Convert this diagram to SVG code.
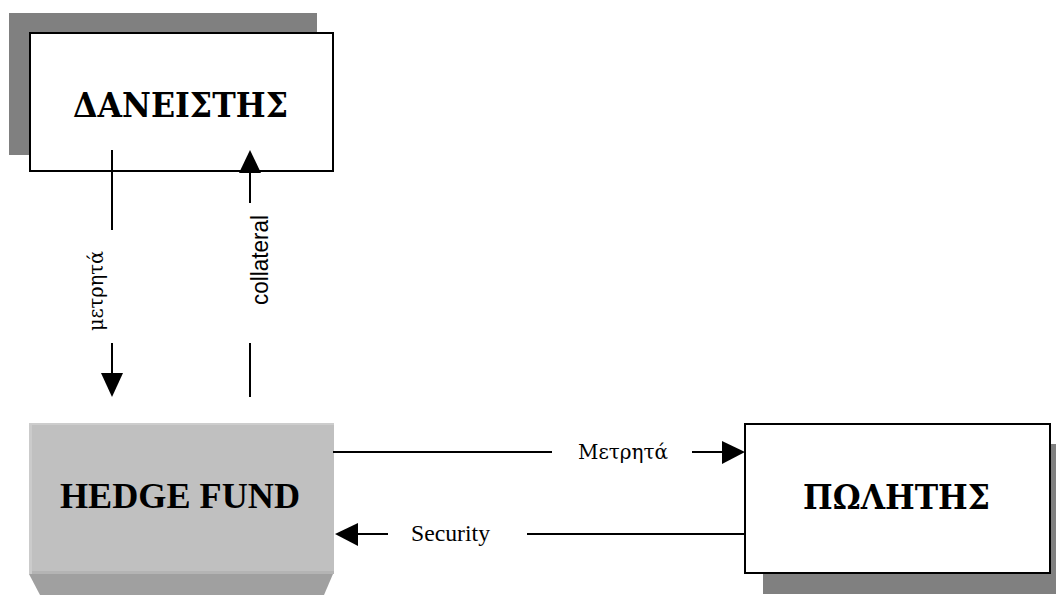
<svg xmlns="http://www.w3.org/2000/svg" width="1056" height="595" viewBox="0 0 1056 595">
  <style>
    .box { fill: #ffffff; stroke: #000000; stroke-width: 2; }
    .shadow { fill: #808080; }
    .title { font-family: "Liberation Serif", "Times New Roman", serif; font-weight: bold; font-size: 35px; fill: #000; }
    .gtitle { font-family: "DejaVu Serif", "Liberation Serif", serif; font-weight: bold; font-size: 33px; fill: #000; }
    .lbl { font-family: "Liberation Serif", "Times New Roman", serif; font-size: 23px; fill: #000; }
    .glbl { font-family: "DejaVu Serif", "Liberation Serif", serif; font-size: 21px; fill: #000; }
    .lbls { font-family: "Liberation Sans", Arial, sans-serif; font-size: 23px; fill: #000; }
    .ln { stroke: #000; stroke-width: 2; fill: none; }
    .ah { fill: #000; }
  </style>
  <rect width="1056" height="595" fill="#ffffff"/>

  <g id="node-daneistis">
    <rect class="shadow" x="9" y="13" width="308" height="142"/>
    <rect class="box" x="30" y="33" width="303" height="138"/>
    <text class="gtitle" x="73" y="117" textLength="215" lengthAdjust="spacingAndGlyphs">ΔΑΝΕΙΣΤΗΣ</text>
  </g>

  <g id="node-hedgefund">
    <polygon points="29,574 333,574 324,595 40,595" fill="#a0a0a0"/>
    <rect x="29" y="423" width="305" height="151" fill="#c0c0c0"/>
    <rect x="29" y="571" width="305" height="3" fill="#b4b4b4"/>
    <rect x="29" y="423" width="3" height="151" fill="#cbcbcb"/>
    <rect x="29" y="423" width="305" height="2" fill="#cdcdcd"/>
    <text class="title" x="60" y="508" textLength="240" lengthAdjust="spacingAndGlyphs">HEDGE FUND</text>
  </g>

  <g id="node-politis">
    <rect class="shadow" x="763" y="444" width="293" height="150"/>
    <rect class="box" x="745" y="424" width="305" height="149"/>
    <text class="gtitle" x="803" y="509" textLength="187" lengthAdjust="spacingAndGlyphs">ΠΩΛΗΤΗΣ</text>
  </g>

  <g id="connectors">
    <!-- μετρητά: lender to hedge fund -->
    <line class="ln" x1="112" y1="150" x2="112" y2="230"/>
    <line class="ln" x1="112" y1="343" x2="112" y2="374"/>
    <polygon class="ah" points="101,373 123,373 112,397"/>
    <text class="glbl" transform="translate(103,331) rotate(-90)" textLength="80" lengthAdjust="spacingAndGlyphs">μετρητά</text>

    <!-- collateral: hedge fund to lender -->
    <line class="ln" x1="250" y1="343" x2="250" y2="397"/>
    <line class="ln" x1="250" y1="172" x2="250" y2="203"/>
    <polygon class="ah" points="239,173 261,173 250,150"/>
    <text class="lbls" transform="translate(268,305) rotate(-90)" textLength="90" lengthAdjust="spacingAndGlyphs">collateral</text>

    <!-- Μετρητά: hedge fund to seller -->
    <line class="ln" x1="333" y1="452" x2="552" y2="452"/>
    <line class="ln" x1="692" y1="452" x2="723" y2="452"/>
    <polygon class="ah" points="722,441 722,464 745,452"/>
    <text class="glbl" x="578" y="459" textLength="90" lengthAdjust="spacingAndGlyphs">Μετρητά</text>

    <!-- Security: seller to hedge fund -->
    <line class="ln" x1="527" y1="534" x2="745" y2="534"/>
    <line class="ln" x1="357" y1="534" x2="388" y2="534"/>
    <polygon class="ah" points="358,523 358,546 335,534"/>
    <text class="lbl" x="411" y="541" textLength="79" lengthAdjust="spacingAndGlyphs">Security</text>
  </g>
</svg>
